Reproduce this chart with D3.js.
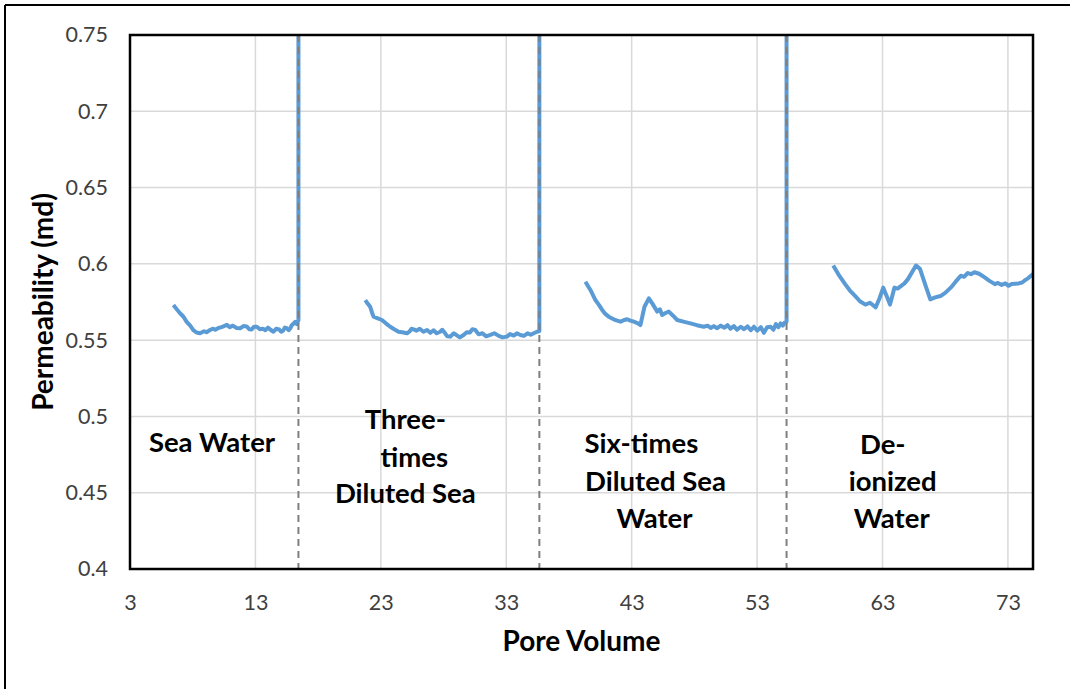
<!DOCTYPE html>
<html>
<head>
<meta charset="utf-8">
<script src="https://cdn.jsdelivr.net/npm/d3@7"></script>
<style>
  body { margin: 0; background: #fff; }
  text { font-family: Lato, "Open Sans", sans-serif; }
</style>
</head>
<body>
<div id="chart"></div>
<script>
// pore volume / permeability, one run per brine
var seaX = [6.46, 6.7, 6.99, 7.25, 7.52, 7.8, 8.05, 8.3, 8.59, 8.9, 9.1, 9.38, 9.6, 9.8, 10.05, 10.3, 10.5, 10.72, 10.95, 11.2, 11.5, 11.78, 12.05, 12.3, 12.5, 12.7, 12.9, 13.11, 13.35, 13.6, 13.8, 14.0, 14.2, 14.44, 14.65, 14.9, 15.05, 15.2, 15.35, 15.51, 15.65, 15.8, 15.9, 16.0, 16.17, 16.3, 16.43, 16.43];
var seaY = [0.573, 0.5705, 0.5676, 0.5655, 0.562, 0.5595, 0.5566, 0.555, 0.5545, 0.5558, 0.5552, 0.5566, 0.5575, 0.5568, 0.558, 0.5585, 0.5592, 0.560, 0.5585, 0.5595, 0.558, 0.5578, 0.5592, 0.559, 0.5572, 0.557, 0.5588, 0.5588, 0.5572, 0.5575, 0.5565, 0.5582, 0.5568, 0.5555, 0.5575, 0.557, 0.5555, 0.5562, 0.5582, 0.5578, 0.5565, 0.558, 0.5598, 0.5605, 0.562, 0.5605, 0.563, 0.80];

var threeX = [21.76, 21.95, 22.15, 22.3, 22.42, 22.7, 23.09, 23.4, 23.75, 24.1, 24.41, 24.7, 25.08, 25.3, 25.45, 25.61, 25.85, 26.1, 26.4, 26.68, 26.95, 27.2, 27.45, 27.74, 27.9, 28.1, 28.3, 28.54, 28.8, 29.0, 29.3, 29.6, 29.85, 30.1, 30.3, 30.53, 30.8, 31.1, 31.4, 31.73, 32.05, 32.4, 32.7, 33.06, 33.3, 33.6, 33.85, 34.13, 34.4, 34.7, 34.95, 35.19, 35.45, 35.64, 35.64];
var threeY = [0.5763, 0.574, 0.5719, 0.568, 0.5654, 0.5645, 0.5632, 0.561, 0.5588, 0.557, 0.5555, 0.5552, 0.5545, 0.5558, 0.5575, 0.5571, 0.5562, 0.5575, 0.5555, 0.5567, 0.5548, 0.5565, 0.5545, 0.5555, 0.5568, 0.5548, 0.5525, 0.5523, 0.5545, 0.5535, 0.5518, 0.5534, 0.5552, 0.555, 0.5572, 0.5567, 0.5538, 0.5545, 0.5525, 0.5534, 0.5545, 0.5528, 0.5518, 0.5523, 0.554, 0.553, 0.5545, 0.5534, 0.5528, 0.5545, 0.5535, 0.5545, 0.5555, 0.556, 0.80];

var sixX = [39.31, 39.71, 40.11, 40.4, 40.65, 40.9, 41.17, 41.6, 42.11, 42.4, 42.64, 42.9, 43.17, 43.45, 43.7, 44.02, 44.37, 44.64, 45.04, 45.25, 45.43, 45.7, 45.96, 46.3, 46.63, 47.2, 47.69, 48.2, 48.75, 49.05, 49.3, 49.55, 49.82, 50.1, 50.4, 50.65, 50.88, 51.15, 51.4, 51.7, 51.95, 52.25, 52.5, 52.75, 53.02, 53.3, 53.54, 53.8, 54.08, 54.3, 54.5, 54.7, 54.88, 55.05, 55.2, 55.35, 55.35];
var sixY = [0.5883, 0.5829, 0.5763, 0.573, 0.5698, 0.5672, 0.5654, 0.5635, 0.5621, 0.5632, 0.5637, 0.5628, 0.5621, 0.5612, 0.5599, 0.5719, 0.5774, 0.5741, 0.5687, 0.5702, 0.5665, 0.5678, 0.5687, 0.566, 0.5632, 0.562, 0.561, 0.5598, 0.5588, 0.5595, 0.558, 0.5592, 0.5578, 0.5595, 0.5582, 0.5598, 0.5575, 0.5592, 0.5568, 0.5588, 0.5572, 0.559, 0.5565, 0.5588, 0.5562, 0.5585, 0.5548, 0.5585, 0.5588, 0.5568, 0.5605, 0.5585, 0.561, 0.5595, 0.5615, 0.562, 0.80];

var deionX = [59.07, 59.47, 60.02, 60.4, 60.83, 61.2, 61.64, 62.0, 62.46, 62.78, 63.06, 63.33, 63.6, 63.95, 64.2, 64.49, 64.75, 65.03, 65.67, 65.99, 66.4, 66.81, 67.2, 67.62, 68.0, 68.44, 68.8, 69.24, 69.5, 69.8, 70.05, 70.33, 70.7, 71.15, 71.5, 71.96, 72.2, 72.5, 72.8, 73.05, 73.3, 73.6, 73.85, 74.13, 74.4, 74.6, 75.0];
var deionY = [0.5989, 0.5933, 0.5867, 0.5825, 0.5789, 0.5755, 0.5733, 0.5745, 0.5715, 0.5778, 0.5844, 0.5789, 0.5733, 0.5844, 0.5838, 0.5856, 0.5872, 0.590, 0.5989, 0.5967, 0.5865, 0.5767, 0.578, 0.5789, 0.581, 0.5844, 0.588, 0.5922, 0.5915, 0.594, 0.5932, 0.5945, 0.5935, 0.5911, 0.589, 0.5867, 0.5875, 0.5862, 0.5872, 0.5856, 0.5868, 0.587, 0.5872, 0.5878, 0.5895, 0.5905, 0.5933];

var switchPV = [16.43, 35.64, 55.35];
var xTicks = [3, 13, 23, 33, 43, 53, 63, 73];
var yTicks = [0.4, 0.45, 0.5, 0.55, 0.6, 0.65, 0.7, 0.75];

var labelLines = [
    { text: "Sea Water", x: 9.54, y: 0.4832 },
    { text: "Three-", x: 24.95, y: 0.4983 },
    { text: "times", x: 25.67, y: 0.4734 },
    { text: "Diluted Sea", x: 24.95, y: 0.4498 },
    { text: "Six-times", x: 43.78, y: 0.4826 },
    { text: "Diluted Sea", x: 44.9, y: 0.4577 },
    { text: "Water", x: 44.82, y: 0.4334 },
    { text: "De-", x: 63.02, y: 0.4819 },
    { text: "ionized", x: 63.81, y: 0.4577 },
    { text: "Water", x: 63.73, y: 0.4334 }
];

var width = 1070, height = 689;
var margin = { left: 130, top: 35, right: 37, bottom: 120 };
var w = width - margin.left - margin.right,
    h = height - margin.top - margin.bottom;

var svg = d3.select('#chart').append('svg')
    .attr('width', width)
    .attr('height', height);

// outer frame, only top and left edges show
svg.append('line').attr('x1', 5).attr('x2', width).attr('y1', 5).attr('y2', 5)
    .attr('stroke', '#000').attr('stroke-width', 2);
svg.append('line').attr('x1', 5).attr('x2', 5).attr('y1', 5).attr('y2', height)
    .attr('stroke', '#000').attr('stroke-width', 2);

var x = d3.scaleLinear().domain([3, 75]).range([0, w]);
var y = d3.scaleLinear().domain([0.4, 0.75]).range([h, 0]);

var g = svg.append('g')
    .attr('transform', 'translate(' + margin.left + ',' + margin.top + ')');

svg.append('clipPath').attr('id', 'plotclip')
    .append('rect').attr('width', w).attr('height', h);

// gridlines
g.append('g')
    .selectAll('line')
    .data(yTicks)
    .enter().append('line')
    .attr('x1', 0).attr('x2', w)
    .attr('y1', function (d) { return y(d); })
    .attr('y2', function (d) { return y(d); })
    .attr('stroke', '#d9d9d9').attr('stroke-width', 1.5);
g.append('g')
    .selectAll('line')
    .data(xTicks)
    .enter().append('line')
    .attr('y1', 0).attr('y2', h)
    .attr('x1', function (d) { return x(d); })
    .attr('x2', function (d) { return x(d); })
    .attr('stroke', '#d9d9d9').attr('stroke-width', 1.5);

// axes, labels only
var xAxis = g.append('g')
    .attr('transform', 'translate(0,' + h + ')')
    .call(d3.axisBottom(x).tickValues(xTicks).tickSize(0).tickPadding(26).tickFormat(d3.format('d')));
var yAxis = g.append('g')
    .call(d3.axisLeft(y).tickValues(yTicks).tickSize(0).tickPadding(22).tickFormat(function (d) { return d3.format('')(+d.toFixed(2)); }));
[xAxis, yAxis].forEach(function (a) {
    a.select('.domain').remove();
    a.selectAll('text')
        .style('font-family', 'Lato, sans-serif')
        .style('font-size', '21.5px')
        .attr('fill', '#404040');
});

// permeability runs
var runs = [[seaX, seaY], [threeX, threeY], [sixX, sixY], [deionX, deionY]];
var line = d3.line()
    .x(function (d) { return x(d[0]); })
    .y(function (d) { return y(d[1]); });

g.append('g').attr('clip-path', 'url(#plotclip)')
    .selectAll('path')
    .data(runs.map(function (r) { return d3.zip(r[0], r[1]); }))
    .enter().append('path')
    .attr('d', line)
    .attr('fill', 'none')
    .attr('stroke', '#5b9bd5')
    .attr('stroke-width', 4)
    .attr('stroke-linejoin', 'round');

// dashed switch lines, drawn over the spikes
g.selectAll('line.sw')
    .data(switchPV)
    .enter().append('line')
    .attr('class', 'sw')
    .attr('x1', function (d) { return x(d); })
    .attr('x2', function (d) { return x(d); })
    .attr('y1', 0).attr('y2', h)
    .attr('stroke', '#7f7f7f')
    .attr('stroke-width', 2)
    .attr('stroke-dasharray', '7,5');

// plot border
g.append('rect')
    .attr('width', w).attr('height', h)
    .attr('fill', 'none')
    .attr('stroke', '#000')
    .attr('stroke-width', 2.5);

// brine labels
g.selectAll('text.lbl')
    .data(labelLines)
    .enter().append('text')
    .attr('class', 'lbl')
    .attr('x', function (d) { return x(d.x); })
    .attr('y', function (d) { return y(d.y); })
    .attr('text-anchor', 'middle')
    .attr('dy', '0.35em')
    .style('font-size', '27.5px')
    .style('font-weight', 'bold')
    .attr('fill', '#000')
    .text(function (d) { return d.text; });

// axis titles
svg.append('text')
    .attr('x', margin.left + w / 2)
    .attr('y', 641)
    .attr('dy', '0.35em')
    .attr('text-anchor', 'middle')
    .style('font-size', '28px')
    .style('font-weight', 'bold')
    .text('Pore Volume');
svg.append('text')
    .attr('transform', 'translate(43,' + (margin.top + h / 2) + ') rotate(-90)')
    .attr('dy', '0.35em')
    .attr('text-anchor', 'middle')
    .style('font-size', '28px')
    .style('font-weight', 'bold')
    .text('Permeability (md)');
</script>
</body>
</html>
